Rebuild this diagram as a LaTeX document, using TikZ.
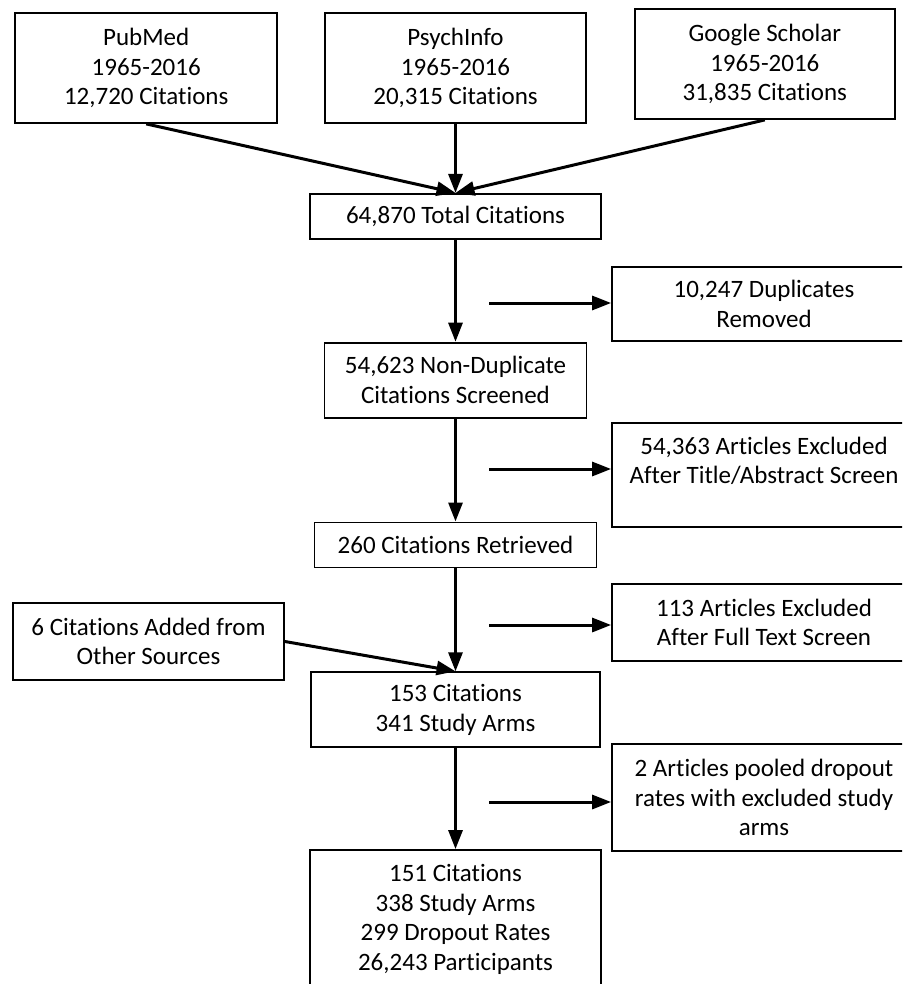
\documentclass[tikz,border=0pt]{standalone}
\usepackage{fontspec}
\setmainfont{Carlito}[Ligatures=NoCommon]
\usetikzlibrary{positioning, arrows.meta}

\begin{document}
\begin{tikzpicture}[
    x=1pt, y=-1pt,
    >={Triangle[length=19pt, width=14pt]},
    flow/.style={
      rectangle, draw=black, line width=1.8pt,
      align=center, inner sep=0pt,
      font=\fontsize{25}{29.5}\selectfont,
    },
    excl/.style={flow, minimum width=304pt},
    arrow/.style={->, black, line width=3pt},
  ]
  \useasboundingbox (0,0) rectangle (902,984);
  \clip (0,0) rectangle (902,984);

  \node[flow, minimum width=261pt, minimum height=110pt] (psych) at (455.5,68)
    {PsychInfo\\1965-2016\\20,315 Citations};
  \node[flow, minimum width=262pt, minimum height=110pt, left=46pt of psych] (pubmed)
    {PubMed\\1965-2016\\12,720 Citations};
  \node[flow, minimum width=260pt, minimum height=110pt, right=47pt of psych, yshift=4pt] (google)
    {Google Scholar\\1965-2016\\31,835 Citations};

  \node[flow, minimum width=291pt, minimum height=45pt, below=69pt of psych] (total)
    {64,870 Total Citations};
  \node[flow, minimum width=262pt, minimum height=75pt, below=102pt of total] (nondup)
    {54,623 Non-Duplicate\\Citations Screened};
  \node[flow, minimum width=282pt, minimum height=45pt, below=103pt of nondup] (retr)
    {260 Citations Retrieved};
  \node[flow, minimum width=289pt, minimum height=75pt, below=103pt of retr] (incl)
    {153 Citations\\341 Study Arms};
  \node[flow, minimum width=291pt, minimum height=139pt, below=101pt of incl] (final)
    {151 Citations\\338 Study Arms\\299 Dropout Rates\\26,243 Participants};

  \node[flow, minimum width=271pt, minimum height=77pt] (other) at (148.5,641.5)
    {6 Citations Added from\\Other Sources};

  \node[excl, minimum height=74pt] (dup) at (764,304)
    {10,247 Duplicates\\Removed};
  \node[excl, minimum height=104pt] (scrn) at (764,475)
    {54,363 Articles Excluded\\After Title/Abstract Screen\\\mbox{}};
  \node[excl, minimum height=77pt] (full) at (764,622.5)
    {113 Articles Excluded\\After Full Text Screen};
  \node[excl, minimum height=107pt] (pool) at (764,797.5)
    {2 Articles pooled dropout\\rates with excluded study\\arms};

  \coordinate (d1) at (489,303);
  \coordinate (d2) at (489,469);
  \coordinate (d3) at (489,625);
  \coordinate (d4) at (489,802);

  \draw[arrow] (pubmed.south) -- (total.north);
  \draw[arrow] (psych.south) -- (total.north);
  \draw[arrow] (google.south) -- (total.north);
  \draw[arrow] (total.south) -- (nondup.north);
  \draw[arrow] (nondup.south) -- (retr.north);
  \draw[arrow] (retr.south) -- (incl.north);
  \draw[arrow] (other.east) -- (incl.north);
  \draw[arrow] (incl.south) -- (final.north);

  \draw[arrow] (d1) -- (d1 -| dup.west);
  \draw[arrow] (d2) -- (d2 -| scrn.west);
  \draw[arrow] (d3) -- (d3 -| full.west);
  \draw[arrow] (d4) -- (d4 -| pool.west);
\end{tikzpicture}
\end{document}
